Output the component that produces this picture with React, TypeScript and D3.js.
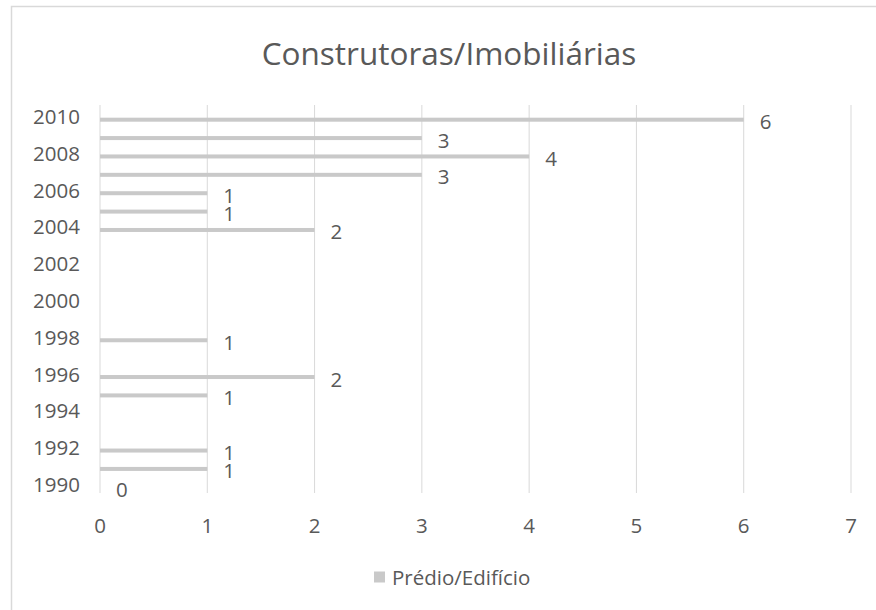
import React from "react";
import * as d3 from "d3";

const years: number[] = [2010, 2009, 2008, 2007, 2006, 2005, 2004, 2003, 2002, 2001, 2000, 1999, 1998, 1997, 1996, 1995, 1994, 1993, 1992, 1991, 1990];
const values: (number | null)[] = [6, 3, 4, 3, 1, 1, 2, null, null, null, null, null, 1, null, 2, 1, null, null, 1, 1, 0];
const xTicks: number[] = [0, 1, 2, 3, 4, 5, 6, 7];
const yTickYears: number[] = [2010, 2008, 2006, 2004, 2002, 2000, 1998, 1996, 1994, 1992, 1990];
const title = "Construtoras/Imobiliárias";
const seriesName = "Prédio/Edifício";

const W = 876;
const H = 610;
const FONT = "'Open Sans', 'Noto Sans', sans-serif";
const TEXT = "#595959";
const GRID = "#d9d9d9";
const BAR = "#c9c9c9";

export default function App() {
  const x = d3.scaleLinear().domain([0, 7]).range([100, 851]);
  const y = d3.scaleBand<number>().domain(years).range([110.5, 496.5]);
  const barH = 4;
  const gridTop = 105;
  const gridBottom = 493;
  const fs = 20.5;

  return (
    <svg width={W} height={H} style={{ position: "absolute", left: 0, top: 0, background: "#fff" }}>
      <rect x={0} y={0} width={W} height={H} fill="#fff" />
      <rect x={11.5} y={6.5} width={W + 20} height={H + 20} fill="none" stroke={GRID} strokeWidth={1.5} />
      <text x={449} y={52} textAnchor="middle" dominantBaseline="central" fontFamily={FONT} fontSize={31.5} fill={TEXT}>
        {title}
      </text>
      {xTicks.map((t) => (
        <line key={"g" + t} x1={x(t)} x2={x(t)} y1={gridTop} y2={gridBottom} stroke={GRID} strokeWidth={1} />
      ))}
      {years.map((yr, i) => {
        const v = values[i];
        if (v === null) return null;
        const cy = (y(yr) as number) + y.bandwidth() / 2;
        return (
          <g key={"b" + yr}>
            {v > 0 && <rect x={x(0)} y={cy - barH / 2} width={x(v) - x(0)} height={barH} fill={BAR} />}
            <text x={x(v) + 16} y={cy + 1.5} dominantBaseline="central" fontFamily={FONT} fontSize={fs} fill={TEXT}>
              {v}
            </text>
          </g>
        );
      })}
      {yTickYears.map((yr) => {
        const cy = (y(yr) as number) + y.bandwidth() / 2;
        return (
          <text key={"yt" + yr} x={80} y={cy - 3.5} textAnchor="end" dominantBaseline="central" fontFamily={FONT} fontSize={fs} fill={TEXT}>
            {yr}
          </text>
        );
      })}
      {xTicks.map((t) => (
        <text key={"xt" + t} x={x(t)} y={524.5} textAnchor="middle" dominantBaseline="central" fontFamily={FONT} fontSize={fs} fill={TEXT}>
          {t}
        </text>
      ))}
      <rect x={374} y={571.5} width={11} height={11} fill={BAR} />
      <text x={392} y={577} dominantBaseline="central" fontFamily={FONT} fontSize={fs} fill={TEXT}>
        {seriesName}
      </text>
    </svg>
  );
}
